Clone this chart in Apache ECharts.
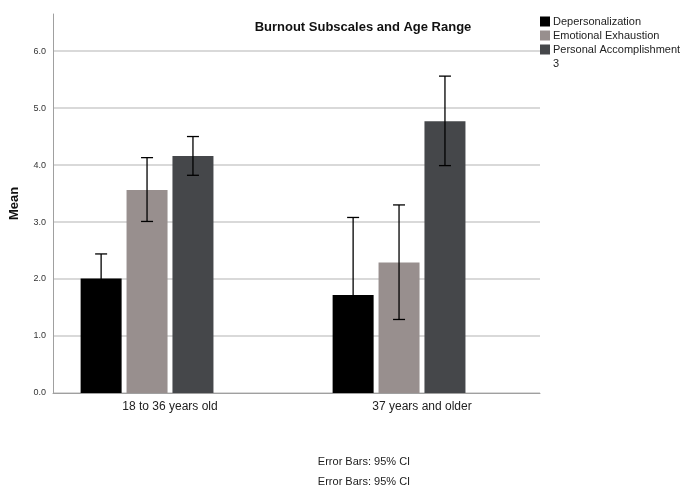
<!DOCTYPE html>
<html>
<head>
<meta charset="utf-8">
<script src="https://cdn.jsdelivr.net/npm/echarts@6/dist/echarts.min.js"></script>
<style>
  html, body { margin: 0; padding: 0; background: #ffffff; }
  #chart { width: 687px; height: 489px; }
</style>
</head>
<body>
<div id="chart"></div>
<script>
// Age groups on the x axis
const categories = ['18 to 36 years old', '37 years and older'];

// Subscale names (the fourth group "3" is empty but keeps its slot)
const seriesNames = ['Depersonalization', 'Emotional Exhaustion', 'Personal Accomplishment', '3'];

// Means per age group
const depMean = [2.01, 1.72];
const emoMean = [3.56, 2.29];
const paMean = [4.16, 4.77];
const emptyMean = [];

// 95% CI bounds per age group
const depLow = [1.58, 0.36];
const depHigh = [2.44, 3.08];
const emoLow = [3.01, 1.29];
const emoHigh = [4.13, 3.30];
const paLow = [3.82, 3.99];
const paHigh = [4.50, 5.56];

const yTicks = [0, 1, 2, 3, 4, 5, 6];

const colors = ['#000000', '#988f8e', '#45474a', 'rgba(0,0,0,0)'];
const FONT = 'Liberation Sans, Arial, sans-serif';

const BAR_W = 41;
const BAR_GAP = 0.12;
const nSlots = seriesNames.length;
const step = BAR_W * (1 + BAR_GAP);

const means = [depMean, emoMean, paMean, emptyMean];
const lows = [depLow, emoLow, paLow];
const highs = [depHigh, emoHigh, paHigh];

const Y_MAX = 6.65;

const chart = echarts.init(document.getElementById('chart'), null, { renderer: 'canvas' });

function errorSeries(k) {
  const offset = (k - (nSlots - 1) / 2) * step;
  return {
    type: 'custom',
    xAxisIndex: 1,
    yAxisIndex: 1,
    silent: true,
    z: 5,
    data: categories.map((c, i) => [i, lows[k][i], highs[k][i]]),
    renderItem: function (params, api) {
      const x = api.coord([api.value(0), 0])[0] + offset;
      const yLo = api.coord([api.value(0), api.value(1)])[1];
      const yHi = api.coord([api.value(0), api.value(2)])[1];
      const hw = 6;
      const style = { stroke: '#000000', lineWidth: 1.3 };
      return {
        type: 'group',
        children: [
          { type: 'line', shape: { x1: x, y1: yLo, x2: x, y2: yHi }, style: style },
          { type: 'line', shape: { x1: x - hw, y1: yHi, x2: x + hw, y2: yHi }, style: style },
          { type: 'line', shape: { x1: x - hw, y1: yLo, x2: x + hw, y2: yLo }, style: style }
        ]
      };
    }
  };
}

const barSeries = seriesNames.map((name, k) => ({
  name: name,
  type: 'bar',
  xAxisIndex: 1,
  yAxisIndex: 1,
  barWidth: BAR_W,
  barGap: (BAR_GAP * 100) + '%',
  itemStyle: { color: colors[k] },
  emphasis: { disabled: true },
  data: means[k]
}));

const splitColors = yTicks.map(() => '#d9d9d9').concat(['rgba(0,0,0,0)']);

const option = {
  animation: false,
  backgroundColor: '#ffffff',
  color: colors,
  textStyle: { fontFamily: FONT },
  title: [
    {
      text: 'Burnout Subscales and Age Range',
      left: 358, top: 16, textAlign: 'center',
      textStyle: { fontFamily: FONT, fontSize: 13, fontWeight: 'bold', color: '#111' }
    },
    {
      text: 'Error Bars: 95% CI',
      left: 359, top: 451, textAlign: 'center',
      textStyle: { fontFamily: FONT, fontSize: 11, fontWeight: 'normal', color: '#222' }
    },
    {
      text: 'Error Bars: 95% CI',
      left: 359, top: 471, textAlign: 'center',
      textStyle: { fontFamily: FONT, fontSize: 11, fontWeight: 'normal', color: '#222' }
    }
  ],
  legend: {
    orient: 'vertical',
    left: 540, top: 16,
    padding: 0,
    itemWidth: 10, itemHeight: 10, itemGap: 3,
    icon: 'rect',
    selectedMode: false,
    data: seriesNames,
    textStyle: { fontFamily: FONT, fontSize: 11, color: '#222', padding: [0, 0, 0, -2] }
  },
  grid: [
    { left: 53, width: 487, top: 14, height: 379 },
    { left: 44, width: 504, top: 14, height: 379 }
  ],
  xAxis: [
    {
      type: 'category', gridIndex: 0, data: categories,
      axisLine: { show: true, lineStyle: { color: '#a0a0a0', width: 1 } },
      axisTick: { show: false }, axisLabel: { show: false }, splitLine: { show: false }
    },
    {
      type: 'category', gridIndex: 1, data: categories,
      axisLine: { show: false }, axisTick: { show: false },
      axisLabel: { fontFamily: FONT, fontSize: 12, color: '#222', margin: 8 },
      splitLine: { show: false }
    }
  ],
  yAxis: [
    {
      type: 'value', gridIndex: 0, min: 0, max: Y_MAX, interval: 1,
      name: 'Mean', nameLocation: 'middle', nameGap: 32,
      nameTextStyle: { fontFamily: FONT, fontSize: 13, fontWeight: 'bold', color: '#111' },
      axisLine: { show: true, lineStyle: { color: '#a0a0a0', width: 1 } },
      axisTick: { show: false },
      axisLabel: {
        fontFamily: FONT, fontSize: 9, color: '#333', margin: 7,
        formatter: v => (yTicks.indexOf(Math.round(v * 100) / 100) >= 0 ? v.toFixed(1) : '')
      },
      splitLine: { show: true, lineStyle: { color: splitColors, width: 2 } }
    },
    {
      type: 'value', gridIndex: 1, min: 0, max: Y_MAX, interval: 1,
      show: false, splitLine: { show: false }
    }
  ],
  series: barSeries.concat([0, 1, 2].map(errorSeries))
};

chart.setOption(option);
</script>
</body>
</html>
